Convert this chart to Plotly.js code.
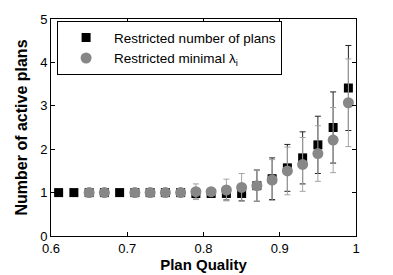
<!DOCTYPE html>
<html>
<head>
<meta charset="utf-8">
<script src="https://cdn.plot.ly/plotly-3.0.1.min.js"></script>
<style>html,body{margin:0;padding:0;background:#fff}#chart{width:393px;height:275px}</style>
</head>
<body>
<div id="chart"></div>
<script>
// Restricted number of plans (squares)
const xSquares = [0.61,0.63,0.65,0.67,0.69,0.71,0.73,0.75,0.77,0.79,0.81,0.83,0.85,0.87,0.89,0.91,0.93,0.95,0.97,0.99];
const ySquares = [1,1,1,1,1,1,1,1,1,0.98,0.98,0.98,0.98,1.16,1.32,1.57,1.80,2.10,2.50,3.41];
const eSquares = [0,0,0,0,0,0,0,0,0,0.1,0,0.15,0.17,0.36,0.48,0.54,0.60,0.66,0.82,0.98];
// Restricted minimal lambda_i (circles)
const xCircles = [0.65,0.67,0.71,0.73,0.75,0.77,0.79,0.81,0.83,0.85,0.87,0.89,0.91,0.93,0.95,0.97,0.99];
const yCircles = [1,1,1,1,1,1,1.02,1.02,1.06,1.12,1.16,1.29,1.50,1.65,1.90,2.21,3.07];
const eCircles = [0,0,0,0,0,0,0.18,0,0.25,0.32,0.36,0.47,0.55,0.62,0.64,0.75,1.01];
const seriesNames = ['Restricted number of plans', 'Restricted minimal λ<sub>i</sub>'];
const xTicks = [0.6,0.7,0.8,0.9,1];
const xTickText = ['0.6','0.7','0.8','0.9','1'];
const yTicks = [0,1,2,3,4,5];

const traces = [
  {x: xSquares, y: ySquares, name: seriesNames[0], type: 'scatter', mode: 'markers',
   marker: {symbol: 'square', size: 9, color: '#000000'},
   error_y: {type: 'data', array: eSquares, visible: true, color: '#222222', thickness: 1, width: 3}},
  {x: xCircles, y: yCircles, name: seriesNames[1], type: 'scatter', mode: 'markers',
   marker: {symbol: 'circle', size: 11, color: '#878787'},
   error_y: {type: 'data', array: eCircles, visible: true, color: '#a3a3a3', thickness: 1, width: 3}}
];

const layout = {
  width: 393, height: 275,
  margin: {l: 51, r: 37, t: 19, b: 39},
  paper_bgcolor: '#ffffff', plot_bgcolor: '#ffffff',
  font: {family: 'Liberation Sans, Arial, sans-serif', size: 13, color: '#000'},
  showlegend: true,
  legend: {x: 0.02, y: 0.99, xanchor: 'left', yanchor: 'top', bgcolor: '#ffffff',
           bordercolor: '#000', borderwidth: 1, font: {size: 13.5}, itemwidth: 46},
  xaxis: {range: [0.6, 1.0], tickvals: xTicks, ticktext: xTickText, ticks: 'inside', ticklen: 4,
          tickcolor: '#000', showline: true, linecolor: '#000', linewidth: 1, mirror: 'ticks',
          showgrid: false, zeroline: false, tickfont: {size: 13},
          title: {text: '<b>Plan Quality</b>', font: {size: 15}, standoff: 4}},
  yaxis: {range: [0, 5], tickvals: yTicks, ticks: 'inside', ticklen: 4,
          tickcolor: '#000', showline: true, linecolor: '#000', linewidth: 1, mirror: 'ticks',
          showgrid: false, zeroline: false, tickfont: {size: 13},
          title: {text: '<b>Number of active plans</b>', font: {size: 16}, standoff: 8}}
};

Plotly.newPlot('chart', traces, layout, {displayModeBar: false, staticPlot: true});
</script>
</body>
</html>
